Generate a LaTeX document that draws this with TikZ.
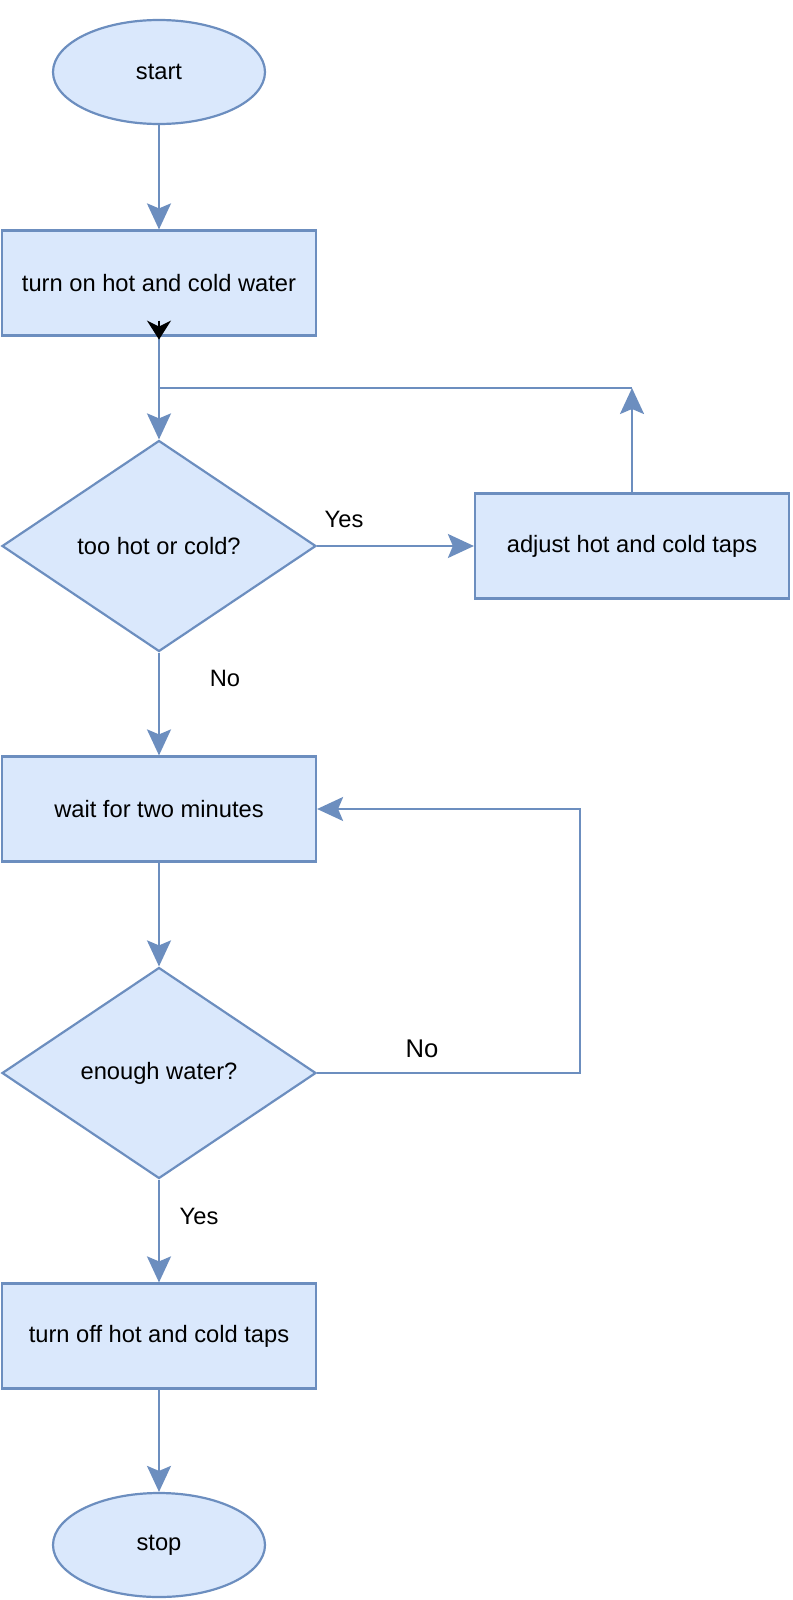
\documentclass[tikz,border=0pt]{standalone}
\usepackage{fontspec}
\setmainfont{Liberation Sans}
\usetikzlibrary{shapes.geometric,arrows.meta}

\definecolor{boxfill}{HTML}{DAE8FC}
\definecolor{boxline}{HTML}{6C8EBF}

\begin{document}
\begin{tikzpicture}[x=1pt,y=-1pt]
\tikzstyle{every node}+=[inner sep=0pt, font=\fontsize{23.7}{28}\selectfont]
\tikzstyle{terminal}=[ellipse, draw=boxline, fill=boxfill, line width=2.2pt, minimum width=212pt, minimum height=104pt]
\tikzstyle{process}=[rectangle, draw=boxline, fill=boxfill, line width=2.2pt, minimum width=314pt, minimum height=105pt]
\tikzstyle{decision}=[diamond, draw=boxline, fill=boxfill, line width=2.2pt, minimum width=314pt, minimum height=211pt]
\tikzstyle{flow}=[draw=boxline, line width=2.2pt, -{Stealth[length=26pt,width=24pt,inset=5pt]}]
\tikzstyle{link}=[draw=boxline, line width=2.2pt]
\useasboundingbox (0,0) rectangle (792,1600);
% shapes
\node [terminal] (start) at (159,72) {start};
\node [process] (turnon) at (159,283) {turn on hot and cold water};
\node [decision] (hotcold) at (159,546) {too hot or cold?};
\node [process] (adjust) at (632,546) {adjust hot and cold taps};
\node [process] (wait) at (159,809) {wait for two minutes};
\node [decision] (enough) at (159,1073) {enough water?};
\node [process] (turnoff) at (159,1336) {turn off hot and cold taps};
\node [terminal] (stop) at (159,1545) {stop};
\coordinate (join) at (159,388);
\coordinate (adjcorner) at (632,388);
\coordinate (nocorner) at (580,1073);
% connectors
\draw [flow] (start) -- (turnon);
\draw [flow] (turnon) -- (join) -- (hotcold);
\draw [flow] (hotcold) -- (adjust);
\draw [flow] (adjust) -- (adjcorner);
\draw [link] (adjcorner) -- (join);
\draw [flow] (hotcold) -- (wait);
\draw [flow] (wait) -- (enough);
\draw [flow] (enough.east) -- (nocorner) |- (wait.east);
\draw [flow] (enough) -- (turnoff);
\draw [flow] (turnoff) -- (stop);
\draw [black, line width=2.2pt, -{Stealth[length=19pt,width=24pt,inset=6pt]}] ([yshift=16pt]turnon.south) -- ([yshift=-3pt]turnon.south);
% labels
\node (yes1) at (344,519) {Yes};
\node (no1) at (225,678) {No};
\node [font=\fontsize{25.6}{30}\selectfont] (no2) at (422,1049) {No};
\node (yes2) at (199,1216) {Yes};
\end{tikzpicture}
\end{document}
